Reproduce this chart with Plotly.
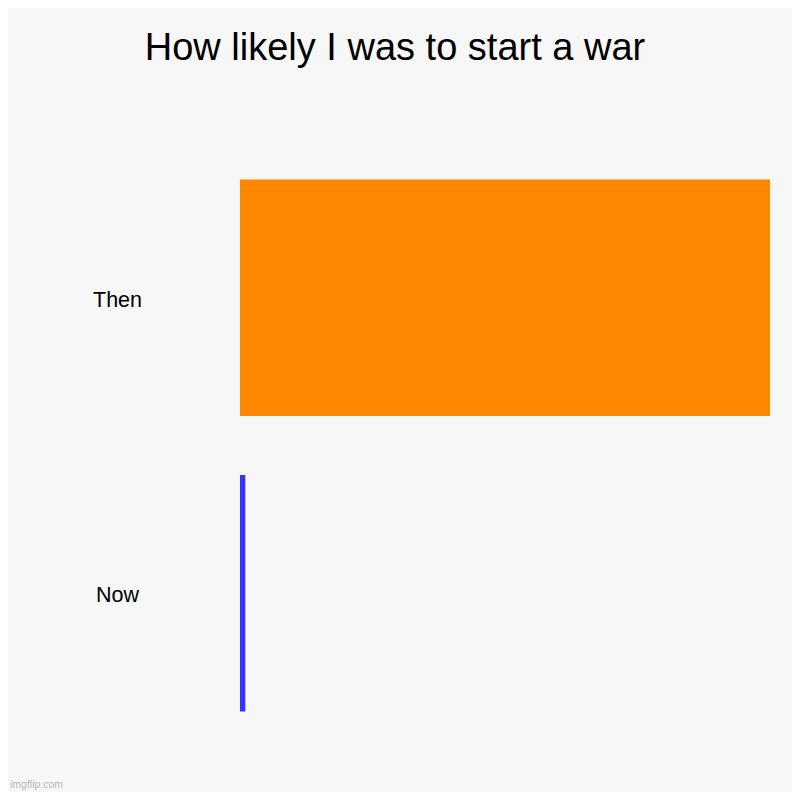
import plotly.graph_objects as go

categories = ["Then", "Now"]
values = [100, 1]
colors = ["#ff8800", "#3333ff"]
title = "How likely I was to start a war"

# page has an 8px body margin; figure is sized to fit the 800px window
OFF = 8
W, H = 800 - 2 * OFF, 800 - 2 * OFF
ml = 240 - OFF
mr = W - (770 - OFF)
mt = 150 - OFF
mb = H - (741 - OFF)
FONT = "Liberation Sans, Arial, sans-serif"

fig = go.Figure(go.Bar(
    x=values, y=categories, orientation="h",
    marker=dict(color=colors, line=dict(width=0)),
    hoverinfo="skip",
))

annotations = []
for c in categories:
    annotations.append(dict(
        x=(117 - OFF - ml) / (W - ml - mr), xref="paper", y=c, yref="y",
        text=c, showarrow=False, xanchor="center", yanchor="middle", yshift=-2,
        font=dict(family=FONT, size=21.5, color="#000000"),
    ))
annotations.append(dict(
    x=-ml / (W - ml - mr), y=-mb / (H - mt - mb), xref="paper", yref="paper",
    text="imgflip.com", showarrow=False, xanchor="left", yanchor="bottom",
    font=dict(family=FONT, size=10.5, color="#b8b8b8"),
))

fig.update_layout(
    width=W, height=H,
    margin=dict(l=ml, r=mr, t=mt, b=mb, pad=0),
    paper_bgcolor="#f7f7f7", plot_bgcolor="#f7f7f7",
    title=dict(text=title, x=(395 - OFF) / W, xanchor="center", y=1 - (47 - OFF) / H, yanchor="middle",
               font=dict(family=FONT, size=38, color="#000000")),
    xaxis=dict(range=[0, 100], visible=False, fixedrange=True),
    yaxis=dict(autorange="reversed", visible=False, fixedrange=True),
    bargap=0.2,
    showlegend=False,
    annotations=annotations,
)

fig.write_html("out.html")
